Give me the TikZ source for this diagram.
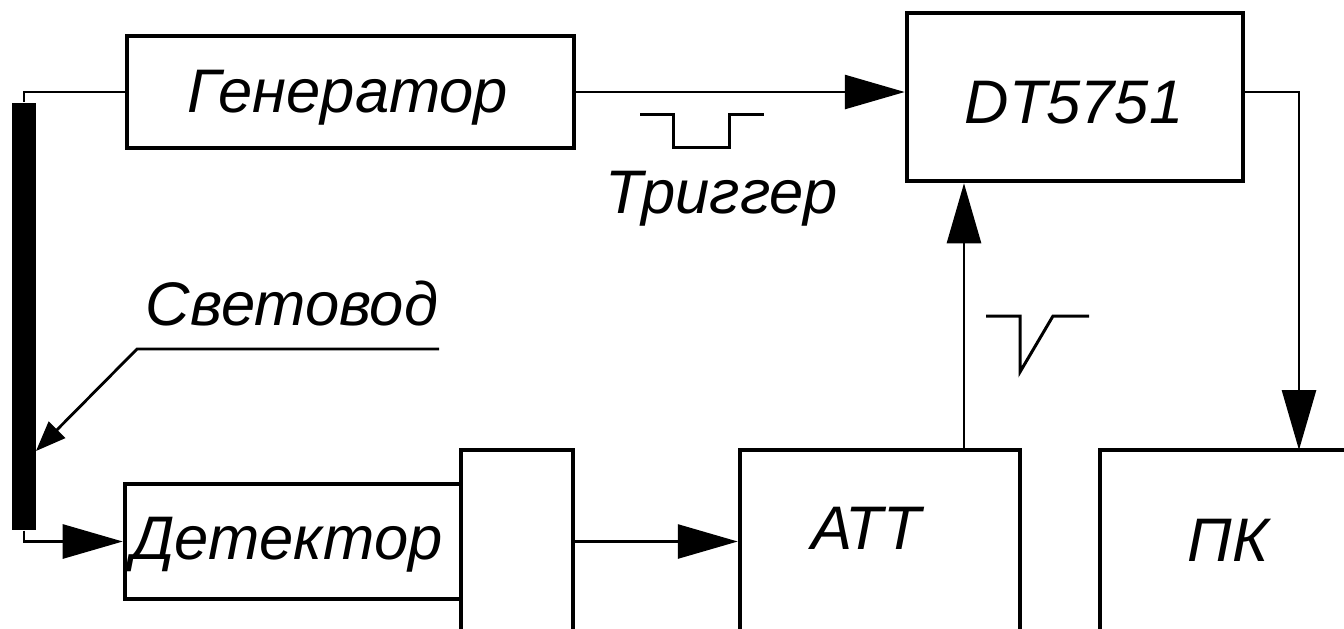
\documentclass[tikz,border=0pt]{standalone}
\usepackage{fontspec}
\setmainfont{Liberation Sans}
\usepackage{tikz}
\usetikzlibrary{positioning,arrows.meta,calc}
\tikzset{
  blk/.style={rectangle, draw=black, line width=0.45mm, inner sep=0pt},
  bar/.style={rectangle, fill=black, inner sep=0pt},
  lbl/.style={font=\itshape\fontsize{17.5}{20}\selectfont, anchor=base, inner sep=0pt},
  ar/.style={-{Triangle[length=6mm,width=3.4mm]}, line width=0.28mm},
  ars/.style={-{Triangle[length=3mm,width=2.3mm]}, line width=0.28mm},
  wire/.style={line width=0.28mm},
  pulse/.style={line width=0.3mm, line join=miter},
}

\begin{document}
\begin{tikzpicture}
  \useasboundingbox (0,0) rectangle (13.44,-6.28);
  \clip (0,0) rectangle (13.44,-6.28);

  % light guide
  \node[bar, minimum width=0.24cm, minimum height=4.27cm] (guide) at (0.24,-3.165) {};
  \node[lbl] (tguide) at (2.92,-3.25) {Световод};
  \coordinate (lgend) at (4.39,-3.49);
  \coordinate (lgknee) at (1.37,-3.49);
  \coordinate (lgtip) at (0.36,-4.51);

  % generator and digitizer
  \node[blk, minimum width=4.47cm, minimum height=1.12cm] (gen) at (3.505,-0.92) {};
  \node[lbl] (tgen) at (3.48,-1.12) {Генератор};
  \node[blk, minimum width=3.36cm, minimum height=1.68cm] (dt) at (10.75,-0.97) {};
  \node[lbl] (tdt) at (10.74,-1.23) {DT5751};
  \node[lbl] (ttrig) at (7.22,-2.13) {Триггер};

  % detector, attenuator, pc
  \node[blk, minimum width=3.36cm, minimum height=1.15cm] (det) at (2.93,-5.415) {};
  \node[lbl] (tdet) at (2.87,-5.59) {Детектор};
  \node[blk, minimum width=1.12cm, minimum height=2.30cm] (pmt) at (5.17,-5.65) {};
  \node[blk, minimum width=2.80cm, minimum height=2.30cm] (att) at (8.80,-5.65) {};
  \node[lbl] (tatt) at (8.66,-5.49) {АТТ};
  \node[blk, minimum width=3.00cm, minimum height=2.30cm] (pc) at (12.50,-5.65) {};
  \node[lbl] (tpc) at (12.28,-5.61) {ПК};
  \coordinate (attout) at (9.64,-4.50);
  \coordinate (pcin) at (12.99,-4.50);

  % connections
  \draw[wire] (gen.west) -| (guide.north);
  \draw[ar] (guide.south) |- (det.west);
  \draw[ar] (gen.east) -- (gen.east -| dt.west);
  \draw[ar] (dt.east |- gen.east) -| (pcin);
  \draw[ar] (pmt.east |- det.west) -- (att.west |- det.west);
  \draw[ar] (attout) -- (attout |- dt.south);
  \draw[ars] (lgend) -- (lgknee) -- (lgtip);

  % pulses
  \draw[pulse] (6.40,-1.14) -- (6.73,-1.14) -- (6.73,-1.47) -- (7.29,-1.47)
    -- (7.29,-1.14) -- (7.64,-1.14);
  \draw[pulse] (9.86,-3.16) -- (10.20,-3.16) -- (10.20,-3.72) -- (10.53,-3.16)
    -- (10.89,-3.16);
\end{tikzpicture}
\end{document}
